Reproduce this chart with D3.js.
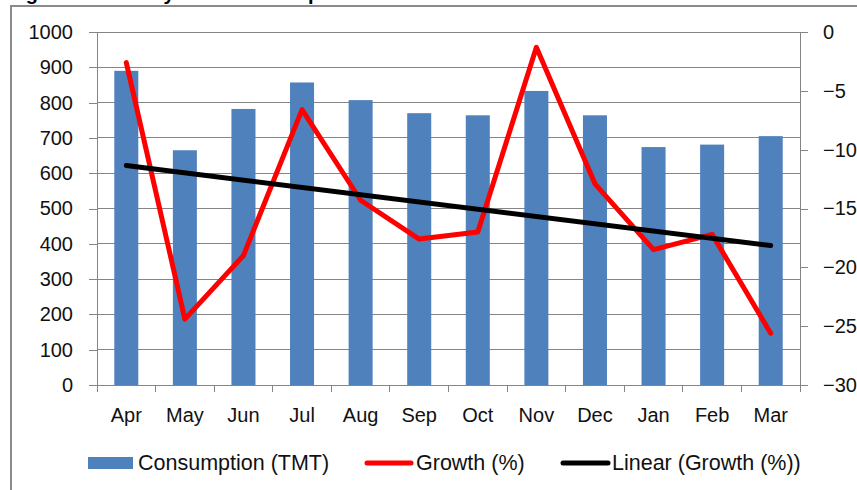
<!DOCTYPE html>
<html>
<head>
<meta charset="utf-8">
<script src="https://cdn.jsdelivr.net/npm/d3@7"></script>
<style>
  body { margin: 0; background: #fff; }
  svg { display: block; font-family: "Liberation Sans", Arial, sans-serif; }
</style>
</head>
<body>
<svg id="chart" width="857" height="490"></svg>
<script>
// Data
const months = ["Apr", "May", "Jun", "Jul", "Aug", "Sep", "Oct", "Nov", "Dec", "Jan", "Feb", "Mar"];
const consumption = [890, 665, 782, 857, 807, 770, 764, 833, 764, 674, 681, 705];
const growth = [-2.6, -24.4, -19.0, -6.6, -14.3, -17.6, -17.0, -1.3, -12.9, -18.5, -17.2, -25.6];
const leftTicks = [0, 100, 200, 300, 400, 500, 600, 700, 800, 900, 1000];
const rightTicks = [0, -5, -10, -15, -20, -25, -30];
const legendLabels = ["Consumption (TMT)", "Growth (%)", "Linear (Growth (%))"];

const barColor = "#4F81BD";
const growthColor = "#FF0000";
const trendColor = "#000000";
const gridColor = "#858585";

// plot area
const margin = { top: 32, right: 57, bottom: 105, left: 97 };
const width = 857 - margin.left - margin.right;
const height = 490 - margin.top - margin.bottom;

const svg = d3.select("#chart");

// chart frame and the title, cut off at the top as in the source
svg.append("text")
    .attr("x", 8)
    .attr("y", 0)
    .attr("font-size", 20)
    .attr("font-weight", "bold")
    .attr("fill", "#000")
    .text("Figure 3: Monthly HSD Consumption and Growth in 2012-13");

svg.append("path")
    .attr("d", "M11,490 V6 H857")
    .attr("fill", "none")
    .attr("stroke", "#8a8a8a")
    .attr("stroke-width", 2);

const g = svg.append("g")
    .attr("transform", `translate(${margin.left}, ${margin.top})`);

// scales
const x = d3.scaleBand().domain(months).range([0, width]).padding(0);
const yLeft = d3.scaleLinear().domain([0, 1000]).range([height, 0]);
const yRight = d3.scaleLinear().domain([-30, 0]).range([height, 0]);

// gridlines
g.append("g")
    .selectAll("line")
    .data(leftTicks)
    .join("line")
    .attr("x1", 0)
    .attr("x2", width)
    .attr("y1", d => yLeft(d))
    .attr("y2", d => yLeft(d))
    .attr("stroke", gridColor)
    .attr("stroke-width", 1)
    .attr("shape-rendering", "crispEdges");

// bars
const barW = x.bandwidth() * 0.41;
g.append("g")
    .selectAll("rect")
    .data(months)
    .join("rect")
    .attr("x", (d, i) => x(d) + x.bandwidth() / 2 - barW / 2)
    .attr("y", (d, i) => yLeft(consumption[i]))
    .attr("width", barW)
    .attr("height", (d, i) => height - yLeft(consumption[i]))
    .attr("fill", barColor);

// axes
const leftAxis = g.append("g")
    .call(d3.axisLeft(yLeft).tickValues(leftTicks).tickSize(8).tickPadding(16).tickFormat(d3.format("d")));

const rightAxis = g.append("g")
    .attr("transform", `translate(${width}, 0)`)
    .call(d3.axisRight(yRight).tickValues(rightTicks).tickSize(8).tickPadding(15).tickFormat(d3.format("d")));

const bottomAxis = g.append("g")
    .attr("transform", `translate(0, ${height})`)
    .call(d3.axisBottom(x).tickSize(0).tickPadding(23));

// tick marks on the x axis sit between categories
g.append("g")
    .attr("transform", `translate(0, ${height})`)
    .selectAll("line")
    .data(d3.range(months.length + 1))
    .join("line")
    .attr("x1", i => i * x.step())
    .attr("x2", i => i * x.step())
    .attr("y1", 0)
    .attr("y2", 7)
    .attr("stroke", gridColor)
    .attr("shape-rendering", "crispEdges");

[leftAxis, rightAxis, bottomAxis].forEach(a => {
    a.select(".domain").attr("stroke", gridColor).attr("shape-rendering", "crispEdges");
    a.selectAll(".tick line").attr("stroke", gridColor).attr("shape-rendering", "crispEdges");
    a.selectAll("text").attr("font-size", 20).attr("fill", "#111")
        .attr("font-family", "'Liberation Sans', Arial, sans-serif");
});
bottomAxis.select(".domain").attr("d", `M0,0H${width}`);
leftAxis.select(".domain").attr("d", `M0,0V${height}`);
rightAxis.select(".domain").attr("d", `M0,0V${height + 7}`);

// linear trend of growth (least squares)
const idx = d3.range(growth.length);
const mx = d3.mean(idx);
const my = d3.mean(growth);
const slope = d3.sum(idx, i => (i - mx) * (growth[i] - my)) / d3.sum(idx, i => (i - mx) ** 2);
const trend = idx.map(i => my + slope * (i - mx));

const lineGen = d3.line()
    .x((d, i) => x(months[i]) + x.bandwidth() / 2)
    .y(d => yRight(d));

g.append("path")
    .datum(growth)
    .attr("d", lineGen)
    .attr("fill", "none")
    .attr("stroke", growthColor)
    .attr("stroke-width", 5)
    .attr("stroke-linejoin", "round")
    .attr("stroke-linecap", "round");

g.append("path")
    .datum([trend[0], trend[trend.length - 1]])
    .attr("d", d3.line()
        .x((d, i) => x(months[i * (months.length - 1)]) + x.bandwidth() / 2)
        .y(d => yRight(d)))
    .attr("fill", "none")
    .attr("stroke", trendColor)
    .attr("stroke-width", 5)
    .attr("stroke-linecap", "round");

// legend
const legendY = 463;
const legend = svg.append("g").attr("font-size", 21.5).attr("fill", "#111");

legend.append("rect")
    .attr("x", 88).attr("y", legendY - 6)
    .attr("width", 45).attr("height", 12)
    .attr("fill", barColor);
legend.append("text").attr("x", 138).attr("y", legendY + 7).text(legendLabels[0]);

legend.append("line")
    .attr("x1", 367).attr("x2", 411)
    .attr("y1", legendY).attr("y2", legendY)
    .attr("stroke", growthColor).attr("stroke-width", 5).attr("stroke-linecap", "round");
legend.append("text").attr("x", 416).attr("y", legendY + 7).text(legendLabels[1]);

legend.append("line")
    .attr("x1", 563).attr("x2", 608)
    .attr("y1", legendY).attr("y2", legendY)
    .attr("stroke", trendColor).attr("stroke-width", 5).attr("stroke-linecap", "round");
legend.append("text").attr("x", 612).attr("y", legendY + 7).text(legendLabels[2]);
</script>
</body>
</html>
